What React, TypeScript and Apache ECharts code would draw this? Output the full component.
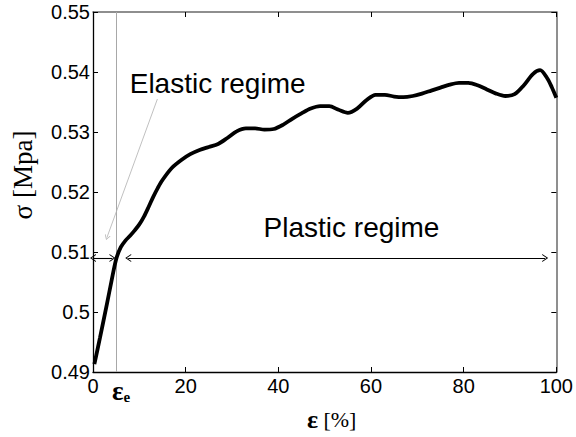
import React, { useEffect, useRef } from "react";
import * as echarts from "echarts";

const STRAIN = [0.3, 1.5, 3, 4, 5, 6, 7, 8, 9, 10, 11, 12, 13, 14, 15, 17, 19, 21, 23, 25, 27, 29, 31, 33, 35, 37, 39, 41, 43, 45, 47, 49, 51, 53, 55, 57, 59, 61, 63, 65, 67, 69, 71, 73, 75, 77, 79, 81, 83, 85, 87, 89, 91, 93, 95, 96.5, 98, 99, 100];
const STRESS = [0.4913, 0.4957, 0.5013, 0.5052, 0.5088, 0.5108, 0.5119, 0.5127, 0.5136, 0.5146, 0.5159, 0.5175, 0.5192, 0.5207, 0.522, 0.524, 0.5253, 0.5263, 0.527, 0.5275, 0.528, 0.529, 0.5301, 0.5306, 0.5306, 0.5304, 0.5305, 0.5312, 0.5322, 0.5331, 0.5339, 0.5343, 0.5343, 0.5337, 0.5332, 0.5339, 0.5353, 0.5362, 0.5362, 0.5359, 0.5358, 0.536, 0.5364, 0.5369, 0.5374, 0.5379, 0.5382, 0.5382, 0.5378, 0.5371, 0.5364, 0.536, 0.5363, 0.5378, 0.5397, 0.5403, 0.539, 0.5375, 0.5357];

const X_MIN = 0;
const X_MAX = 100;
const X_STEP = 20;
const Y_MIN = 0.49;
const Y_MAX = 0.55;
const Y_STEP = 0.01;

const ELASTIC_LIMIT = 5.1; // ε_e
const ARROW_LEVEL = 0.509;
const ELASTIC_ARROW = [0, 4.2];
const PLASTIC_ARROW = [7.6, 97.6];
const POINTER_FROM = [13.9, 0.5355];
const POINTER_TO = [3.0, 0.5124];

const LABEL_NAMES = ["Elastic regime", "Plastic regime"];
const LABEL_X = [26.9, 55.8];
const LABEL_Y = [0.5381, 0.5141];

const CHEVRON = "path://M5,0 L10,9 L8.6,9 L5,2.5 L1.4,9 L0,9 Z";

export default function App() {
  const ref = useRef<HTMLDivElement>(null);

  useEffect(() => {
    if (!ref.current) return;
    const chart = echarts.init(ref.current, undefined, { renderer: "svg" });
    const curve = STRAIN.map((x, i) => [x, STRESS[i]]);
    const sans = "Liberation Sans, Arial, Helvetica, sans-serif";
    const serif = "Liberation Serif, Times New Roman, serif";

    const baseX = {
      type: "value" as const,
      min: X_MIN,
      max: X_MAX,
      interval: X_STEP,
      splitLine: { show: false },
      axisTick: { inside: true, length: 5, lineStyle: { color: "#000", width: 1 } },
    };
    const baseY = {
      type: "value" as const,
      min: Y_MIN,
      max: Y_MAX,
      interval: Y_STEP,
      splitLine: { show: false },
      axisTick: { inside: true, length: 5, lineStyle: { color: "#000", width: 1 } },
    };

    chart.setOption({
      animation: false,
      backgroundColor: "#fff",
      grid: { left: 93, top: 12, right: 16, bottom: 61, containLabel: false },
      xAxis: [
        {
          ...baseX,
          position: "bottom",
          axisLine: { onZero: false, lineStyle: { color: "#000", width: 1.3 } },
          axisLabel: { color: "#000", fontSize: 20, fontFamily: sans, margin: 4 },
          name: "{b|ε} [%]",
          nameLocation: "middle",
          nameGap: 34,
          nameTextStyle: {
            color: "#000",
            fontSize: 22,
            fontFamily: serif,
            padding: [0, 0, 0, 14],
            rich: {
              b: { fontSize: 26, fontWeight: "bold", fontFamily: serif, color: "#000" },
            },
          },
        },
        {
          ...baseX,
          position: "top",
          axisLine: { onZero: false, lineStyle: { color: "#6a6a6a", width: 1.5 } },
          axisLabel: { show: false },
        },
      ],
      yAxis: [
        {
          ...baseY,
          position: "left",
          axisLine: { onZero: false, lineStyle: { color: "#000", width: 1.3 } },
          axisLabel: {
            color: "#000",
            fontSize: 20,
            fontFamily: sans,
            margin: 3,
            formatter: (v: number) => String(+v.toFixed(2)),
          },
          name: "σ [Mpa]",
          nameLocation: "middle",
          nameGap: 57,
          nameRotate: 90,
          nameTextStyle: { color: "#000", fontSize: 27, fontFamily: serif, padding: [0, 0, 0, 34] },
        },
        {
          ...baseY,
          position: "right",
          axisLine: { onZero: false, lineStyle: { color: "#6a6a6a", width: 1.5 } },
          axisLabel: { show: false },
        },
      ],
      series: [
        {
          type: "line",
          data: curve,
          smooth: 0.3,
          showSymbol: false,
          symbol: "none",
          lineStyle: { color: "#000", width: 3.8 },
          z: 5,
          markLine: {
            silent: true,
            symbol: ["none", "none"],
            animation: false,
            data: [
              [
                {
                  coord: [ELASTIC_LIMIT, Y_MIN],
                  symbol: "none",
                  lineStyle: { color: "#a8a8a8", width: 1, type: "solid" },
                  label: {
                    show: true,
                    position: "start",
                    distance: 5,
                    formatter: "{e|ε}{s|e}",
                    padding: [0, 0, 0, 9],
                    rich: {
                      e: { fontSize: 27, fontWeight: "bold", fontFamily: serif, color: "#000" },
                      s: { fontSize: 15, fontWeight: "bold", fontFamily: serif, color: "#000", padding: [12, 0, 0, 0] },
                    },
                  },
                },
                { coord: [ELASTIC_LIMIT, Y_MAX], symbol: "none" },
              ],
              [
                {
                  coord: [ELASTIC_ARROW[0], ARROW_LEVEL],
                  symbol: CHEVRON,
                  symbolSize: [8, 6],
                  lineStyle: { color: "#000", width: 1.1, type: "solid" },
                  label: { show: false },
                },
                { coord: [ELASTIC_ARROW[1], ARROW_LEVEL], symbol: CHEVRON, symbolSize: [8, 6] },
              ],
              [
                {
                  coord: [PLASTIC_ARROW[0], ARROW_LEVEL],
                  symbol: CHEVRON,
                  symbolSize: [8, 6],
                  lineStyle: { color: "#000", width: 1.1, type: "solid" },
                  label: { show: false },
                },
                { coord: [PLASTIC_ARROW[1], ARROW_LEVEL], symbol: CHEVRON, symbolSize: [8, 6] },
              ],
              [
                {
                  coord: POINTER_FROM,
                  symbol: "none",
                  lineStyle: { color: "#b0b0b0", width: 0.8, type: "solid" },
                  label: { show: false },
                },
                { coord: POINTER_TO, symbol: CHEVRON, symbolSize: [6, 5] },
              ],
            ],
          },
        },
        {
          type: "scatter",
          data: LABEL_NAMES.map((n, i) => ({ name: n, value: [LABEL_X[i], LABEL_Y[i]] })),
          symbolSize: 0,
          silent: true,
          z: 6,
          itemStyle: { color: "#000" },
          label: {
            show: true,
            position: "inside",
            formatter: (p: any) => p.name,
            color: "#000",
            opacity: 1,
            fontSize: 28,
            fontFamily: sans,
          },
        },
      ],
    });

    return () => chart.dispose();
  }, []);

  return (
    <div
      ref={ref}
      style={{ position: "fixed", left: 0, top: 0, width: 576, height: 437, background: "#fff" }}
    />
  );
}
